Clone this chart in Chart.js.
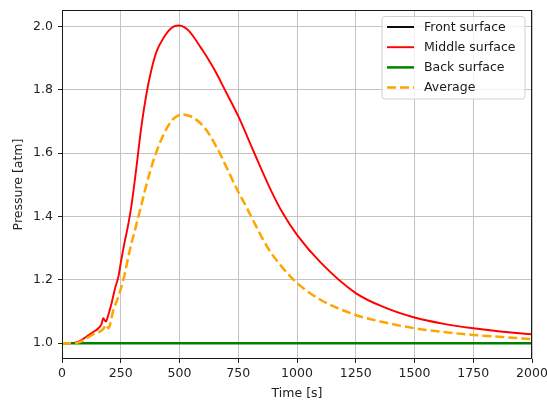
<!DOCTYPE html>
<html>
<head>
<meta charset="utf-8">
<title>Pressure vs time</title>
<script src="https://cdn.jsdelivr.net/npm/chart.js@4.4.0/dist/chart.umd.min.js"></script>
<style>
  html, body { margin: 0; padding: 0; background: #fff; }
</style>
</head>
<body>
<canvas id="pressureChart" width="547" height="401"></canvas>
<script>
// Series labels and colours
const seriesLabels = ["Front surface", "Middle surface", "Back surface", "Average"];
const seriesColors = ["#000000", "#ff0000", "#008000", "#ffa500"];

// Front and back surfaces stay at ambient pressure
const flatTimes = [0, 2000];
const frontValues = [1.0, 1.0];
const backValues = [1.0, 1.0];

// Middle surface pressure [atm] vs time [s]
const middleTimes = [0, 40, 60, 80, 105, 133, 155, 168, 176, 182, 187, 197, 211, 226, 240, 250, 264, 282, 296,
  318, 338, 360, 381, 403, 431, 467, 497, 520, 540, 565, 590, 620, 650, 672, 700, 753, 815, 885, 940, 1000,
  1100, 1250, 1375, 1500, 1625, 1750, 1875, 2000];
const middleValues = [1.0, 1.0, 1.002, 1.008, 1.021, 1.035, 1.047, 1.06, 1.079, 1.072, 1.068, 1.089, 1.126, 1.174, 1.21, 1.253, 1.31, 1.375, 1.437,
  1.563, 1.685, 1.79, 1.865, 1.922, 1.963, 1.996, 2.003, 1.998, 1.986, 1.962, 1.934, 1.9, 1.862, 1.831, 1.79, 1.712, 1.606, 1.489, 1.41, 1.342,
  1.255, 1.158, 1.112, 1.081, 1.061, 1.047, 1.036, 1.028];

// Averaged pressure [atm] vs time [s]
const averageTimes = [0, 40, 60, 80, 105, 133, 162, 176, 187, 197, 219, 240, 261, 289, 318, 339, 353, 374, 396, 431,
  467, 490, 509, 540, 560, 587, 620, 651, 670, 700, 750, 786, 815, 875, 940, 1000, 1100, 1250, 1375, 1500,
  1625, 1750, 1875, 2000];
const averageValues = [1.0, 1.0, 1.0, 1.005, 1.015, 1.028, 1.037, 1.045, 1.058, 1.047, 1.105, 1.147, 1.2, 1.295, 1.379, 1.44, 1.482, 1.54, 1.592, 1.657,
  1.703, 1.717, 1.722, 1.718, 1.711, 1.696, 1.667, 1.628, 1.602, 1.555, 1.478, 1.428, 1.385, 1.302, 1.237, 1.19, 1.137, 1.089, 1.065, 1.047,
  1.035, 1.026, 1.019, 1.013];

// Axis ticks
const xTicks = [0, 250, 500, 750, 1000, 1250, 1500, 1750, 2000];
const yTicks = [1.0, 1.2, 1.4, 1.6, 1.8, 2.0];

function toPoints(times, values) {
  return times.map((t, i) => ({ x: t, y: values[i] }));
}

Chart.defaults.font.family = "'DejaVu Sans', sans-serif";
Chart.defaults.font.size = 12.5;
Chart.defaults.color = "#222";

// Box around the plot area plus a legend in the upper right corner
const frameAndLegend = {
  id: "frameAndLegend",
  afterDatasetsDraw(chart) {
    const ctx = chart.ctx;
    const area = chart.chartArea;

    ctx.save();
    ctx.strokeStyle = "#1a1a1a";
    ctx.lineWidth = 1;
    ctx.strokeRect(area.left + 0.5, area.top + 0.5, area.right - area.left - 1, area.bottom - area.top - 1);

    const bx = area.right - 150;
    const by = area.top + 6.5;
    const bw = 143;
    const bh = 82.5;
    ctx.beginPath();
    ctx.roundRect(bx, by, bw, bh, 3);
    ctx.fillStyle = "rgba(255,255,255,0.8)";
    ctx.fill();
    ctx.strokeStyle = "#d0d0d0";
    ctx.lineWidth = 1;
    ctx.stroke();

    ctx.font = "12.5px 'DejaVu Sans', sans-serif";
    ctx.textBaseline = "middle";
    ctx.textAlign = "left";
    chart.data.datasets.forEach((ds, i) => {
      const cy = by + 10.5 + i * 20.2;
      ctx.beginPath();
      ctx.setLineDash(ds.borderDash || []);
      ctx.strokeStyle = ds.borderColor;
      ctx.lineWidth = ds.borderWidth;
      ctx.moveTo(bx + 5, cy);
      ctx.lineTo(bx + 32, cy);
      ctx.stroke();
      ctx.setLineDash([]);
      ctx.fillStyle = "#1a1a1a";
      ctx.fillText(ds.label, bx + 42, cy + 0.5);
    });
    ctx.restore();
  }
};

const lineDefaults = { pointRadius: 0, fill: false, cubicInterpolationMode: "monotone" };

new Chart(document.getElementById("pressureChart"), {
  type: "line",
  data: {
    datasets: [
      { ...lineDefaults, label: seriesLabels[0], data: toPoints(flatTimes, frontValues),
        borderColor: seriesColors[0], borderWidth: 1.9, order: 4 },
      { ...lineDefaults, label: seriesLabels[1], data: toPoints(middleTimes, middleValues),
        borderColor: seriesColors[1], borderWidth: 1.9, order: 3 },
      { ...lineDefaults, label: seriesLabels[2], data: toPoints(flatTimes, backValues),
        borderColor: seriesColors[2], borderWidth: 2.5, order: 2 },
      { ...lineDefaults, label: seriesLabels[3], data: toPoints(averageTimes, averageValues),
        borderColor: seriesColors[3], borderWidth: 2.5, borderDash: [9, 4], order: 1 }
    ]
  },
  options: {
    responsive: false,
    animation: false,
    devicePixelRatio: 1,
    layout: { padding: { left: 0, top: 10, right: 15, bottom: 0 } },
    plugins: {
      legend: { display: false },
      tooltip: { enabled: false }
    },
    scales: {
      x: {
        type: "linear",
        min: 0,
        max: 2000,
        afterBuildTicks: (scale) => { scale.ticks = xTicks.map(v => ({ value: v })); },
        afterFit: (scale) => {
          scale.height = 42;
          scale.paddingLeft = 0;
          scale.paddingRight = 0;
        },
        ticks: { padding: 3, maxRotation: 0, callback: (v) => String(v) },
        grid: { color: "#c4c4c4", lineWidth: 1, tickLength: 4, tickColor: "#222" },
        border: { display: false },
        title: { display: true, text: "Time [s]", padding: { top: 0, bottom: 0 } }
      },
      y: {
        type: "linear",
        min: 0.9499,
        max: 2.0521,
        afterBuildTicks: (scale) => { scale.ticks = yTicks.map(v => ({ value: v })); },
        afterFit: (scale) => {
          scale.width = 62;
          scale.paddingTop = 0;
          scale.paddingBottom = 0;
        },
        ticks: { padding: 5, callback: (v) => v.toFixed(1) },
        grid: { color: "#c4c4c4", lineWidth: 1, tickLength: 4, tickColor: "#222" },
        border: { display: false },
        title: { display: true, text: "Pressure [atm]", padding: { top: 11, bottom: 0 } }
      }
    }
  },
  plugins: [frameAndLegend]
});
</script>
</body>
</html>
